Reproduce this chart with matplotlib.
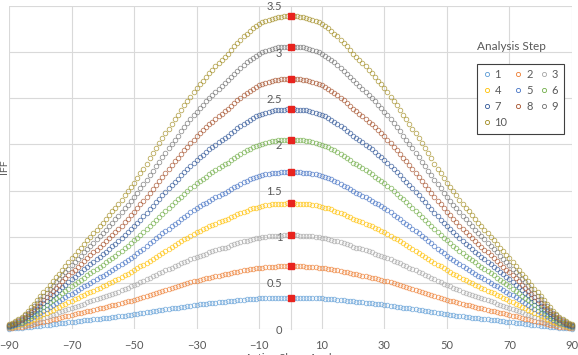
import numpy as np
import matplotlib
matplotlib.use("Agg")
import matplotlib.pyplot as plt
from matplotlib.lines import Line2D

# Normalised IFF shape, 0..90 deg in 1 deg steps (mirrored for negative angles)
half_profile = [
    1.000, 1.000, 0.999, 0.998, 0.997, 0.995, 0.992, 0.989, 0.985, 0.980,
    0.975, 0.968, 0.961, 0.953, 0.944, 0.935, 0.925, 0.914, 0.903, 0.892,
    0.880, 0.870, 0.860, 0.850, 0.840, 0.829, 0.818, 0.806, 0.794, 0.782,
    0.770, 0.757, 0.743, 0.729, 0.715, 0.700, 0.685, 0.670, 0.655, 0.640,
    0.625, 0.609, 0.593, 0.577, 0.561, 0.545, 0.529, 0.513, 0.498, 0.483,
    0.468, 0.454, 0.440, 0.427, 0.413, 0.400, 0.388, 0.376, 0.364, 0.352,
    0.340, 0.329, 0.317, 0.306, 0.294, 0.283, 0.272, 0.260, 0.249, 0.237,
    0.226, 0.214, 0.202, 0.190, 0.177, 0.165, 0.153, 0.141, 0.129, 0.117,
    0.105, 0.093, 0.081, 0.069, 0.058, 0.048, 0.039, 0.031, 0.024, 0.019,
    0.015,
]
angles_half = list(range(0, 91))

# peak IFF (at 0 deg) for each analysis step
steps = [1, 2, 3, 4, 5, 6, 7, 8, 9, 10]
peak_iff = [0.34, 0.68, 1.015, 1.36, 1.70, 2.05, 2.38, 2.71, 3.06, 3.39]
peak_angle = [0, 0, 0, 0, 0, 0, 0, 0, 0, 0]

colors = ["#5B9BD5", "#ED7D31", "#A5A5A5", "#FFC000", "#4472C4",
          "#70AD47", "#2E5597", "#A5502A", "#707070", "#A08A1E"]

x_ticks = [-90, -70, -50, -30, -10, 10, 30, 50, 70, 90]
y_ticks = [0, 0.5, 1, 1.5, 2, 2.5, 3, 3.5]
y_ticklabels = ["0", "0.5", "1", "1.5", "2", "2.5", "3", "3.5"]

plt.rcParams["font.family"] = ["Lato", "DejaVu Sans"]
txt = "#595959"
grid = "#D9D9D9"

angles = np.array([-a for a in angles_half[::-1]] + angles_half[1:])
profile = np.array(half_profile[::-1] + half_profile[1:])

fig = plt.figure(figsize=(5.78, 3.55), dpi=100)
ax = fig.add_axes([9 / 578, 1 - 329 / 355, 563 / 578, 323 / 355])

for s, pk, c in zip(steps, peak_iff, colors):
    ax.plot(angles, pk * profile, ls="none", marker="o", ms=3.3, mfc="none",
            mec=c, mew=0.6, alpha=0.72, clip_on=False, zorder=3)
ax.plot(peak_angle, peak_iff, ls="none", marker="s", ms=3.8, color="#E8231E",
        zorder=5, clip_on=False)

ax.set_xlim(-90, 90)
ax.set_ylim(0, 3.5)
ax.set_xticks(x_ticks)
ax.set_yticks(y_ticks)
ax.set_yticklabels(y_ticklabels)
ax.grid(True, color=grid, lw=0.8, zorder=0)
ax.set_axisbelow(True)
for sp in ["top", "right", "bottom"]:
    ax.spines[sp].set_visible(False)
ax.spines["left"].set_position(("data", 0))
ax.spines["left"].set_color(grid)
ax.spines["left"].set_linewidth(0.8)
ax.tick_params(axis="both", length=0, colors=txt, labelsize=8)
ax.tick_params(axis="x", pad=8)
ax.tick_params(axis="y", pad=6)

fig.text(5 / 578, 1 - 167 / 355, "IFF", rotation=90, ha="center", va="center",
         color=txt, fontsize=7.5)
fig.text(291 / 578, 1 - 358 / 355, "Active Slope Angle", ha="center", va="center",
         color=txt, fontsize=8)

# legend laid out row-wise like the original
order = [0, 3, 6, 9, 1, 4, 7, 2, 5, 8]
handles = [Line2D([], [], ls="none", marker="o", ms=3, mfc="none", mec=colors[i],
                  mew=0.6, label=str(steps[i])) for i in order]
leg = ax.legend(handles=handles, ncol=3, loc="upper left",
                bbox_to_anchor=(471 / 578, 1 - 58 / 355), bbox_transform=fig.transFigure,
                fontsize=8, frameon=True, fancybox=False, framealpha=1,
                edgecolor="#404040", handlelength=0.8, handletextpad=0.3,
                columnspacing=0.6, labelspacing=0.45, borderpad=0.5)
leg.get_frame().set_linewidth(0.8)
for t in leg.get_texts():
    t.set_color(txt)
fig.text(511 / 578, 1 - 46 / 355, "Analysis Step", ha="center", va="center",
         color=txt, fontsize=8.5)

fig.savefig("out.png", dpi=100)
